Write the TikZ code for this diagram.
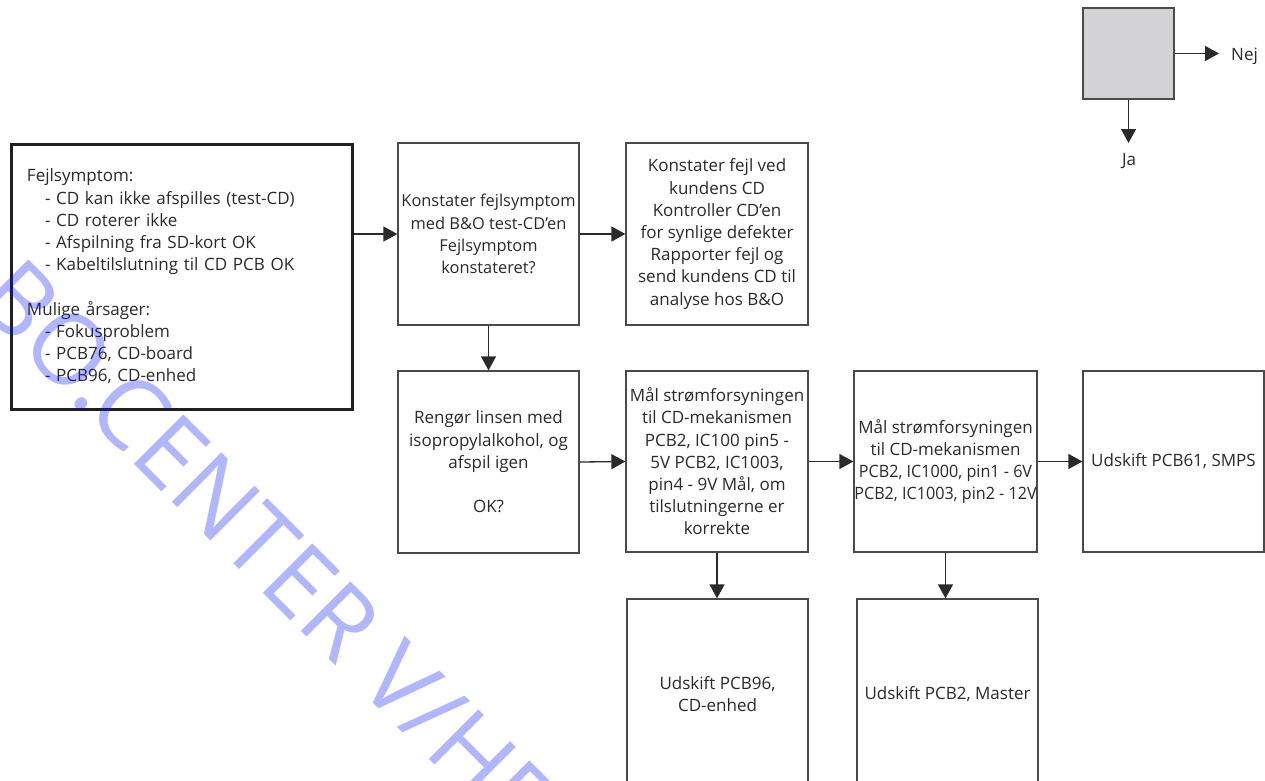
\documentclass[tikz,border=0pt]{standalone}
\usepackage{fontspec}
\setmainfont{Open Sans}
\newfontfamily\condfont[FakeStretch=0.95]{Open Sans}
\newfontfamily\wmfont{Open Sans}
\usetikzlibrary{arrows.meta}
\definecolor{txt}{HTML}{2A2A2A}
\definecolor{edge}{HTML}{4A4A4A}
\definecolor{legendfill}{HTML}{D3D3D5}
\definecolor{wmblue}{RGB}{0,20,255}
\begin{document}
\begin{tikzpicture}[x=1pt,y=-1pt,
  font=\fontsize{17}{22.2}\selectfont, text=txt,
  stepbox/.style={draw=edge, line width=1.3pt, align=center, inner sep=0pt},
  arr/.style={draw=txt, line width=1.3pt, -{Triangle[length=14pt,width=15pt]}}]
\useasboundingbox (0,0) rectangle (1265,780);
\clip (0,0) rectangle (1265,780);
\fill[white] (0,0) rectangle (1265,780);

% symptom box
\node[draw=black!88, line width=3pt, minimum width=341pt, minimum height=265pt,
  text width=309pt, align=left, inner xsep=16pt] (A) at (181.5,276.5)
  {Fejlsymptom:\\
  \hspace*{18pt}- CD kan ikke afspilles (test-CD)\\
  \hspace*{18pt}- CD roterer ikke\\
  \hspace*{18pt}- Afspilning fra SD-kort OK\\
  \hspace*{18pt}- Kabeltilslutning til CD PCB OK\\[22.2pt]
  Mulige årsager:\\
  \hspace*{18pt}- Fokusproblem\\
  \hspace*{18pt}- PCB76, CD-board\\
  \hspace*{18pt}- PCB96, CD-enhed};

\node[stepbox, minimum width=181pt, minimum height=182pt, font=\fontsize{16.4}{22.2}\selectfont] (B) at (488.5,234)
  {Konstater fejlsymptom\\med B\&O test-CD’en\\Fejlsymptom\\konstateret?};
\node[stepbox, minimum width=182pt, minimum height=182pt] (C) at (717,234)
  {Konstater fejl ved\\kundens CD\\Kontroller CD’en\\for synlige defekter\\Rapporter fejl og\\send kundens CD til\\analyse hos B\&O};
\node[stepbox, minimum width=181pt, minimum height=182pt] (D) at (488.5,462)
  {Rengør linsen med\\isopropylalkohol, og\\afspil igen\\[22.2pt]OK?};
\node[stepbox, minimum width=182pt, minimum height=181pt] (E) at (717,461.5)
  {Mål strømforsyningen\\til CD-mekanismen\\PCB2, IC100 pin5 -\\5V PCB2, IC1003,\\pin4 - 9V Mål, om\\tilslutningerne er\\korrekte};
\node[stepbox, minimum width=183pt, minimum height=181pt] (F) at (945.5,461.5)
  {Mål strømforsyningen\\til CD-mekanismen\\{\condfont PCB2, IC1000, pin1 - 6V}\\{\condfont PCB2, IC1003, pin2 - 12V}};
\node[stepbox, minimum width=181pt, minimum height=181pt] (G) at (1173.5,461.5)
  {Udskift PCB61, SMPS};
\node[stepbox, minimum width=181pt, minimum height=190pt] (H) at (717.5,694)
  {Udskift PCB96,\\CD-enhed};
\node[stepbox, minimum width=181pt, minimum height=190pt] (I) at (947.5,694)
  {Udskift PCB2, Master};

% legend
\node[draw=edge, line width=1.3pt, fill=legendfill, minimum width=91pt, minimum height=91pt, inner sep=0pt] (L) at (1128.5,53.5) {};
\coordinate (nejtip) at (1219,53.5);
\coordinate (jatip) at (1128.5,143);
\node[anchor=west, inner sep=0pt] (nej) at (1231,56) {Nej};
\node[inner sep=0pt] (ja) at (1129,161) {Ja};
\draw[arr] (L.east) -- (nejtip);
\draw[arr] (L.south) -- (jatip);

% connectors
\draw[arr] (A.east |- B.west) -- (B.west);
\draw[arr] (B.east) -- (C.west);
\draw[arr] (B.south) -- (D.north);
\draw[arr] (D.east) -- (E.west);
\draw[arr] (E.east) -- (F.west);
\draw[arr] (F.east) -- (G.west);
\draw[arr] (E.south) -- (E.south |- H.north);
\draw[arr] (F.south) -- (F.south |- I.north);

% watermark
\node[rotate=-45, anchor=base west, inner sep=0pt, text=wmblue, text opacity=0.31,
  font=\wmfont\fontsize{98}{98}\selectfont] (wm) at (-28,302) {BO.CENTER V/HE};
\end{tikzpicture}
\end{document}
